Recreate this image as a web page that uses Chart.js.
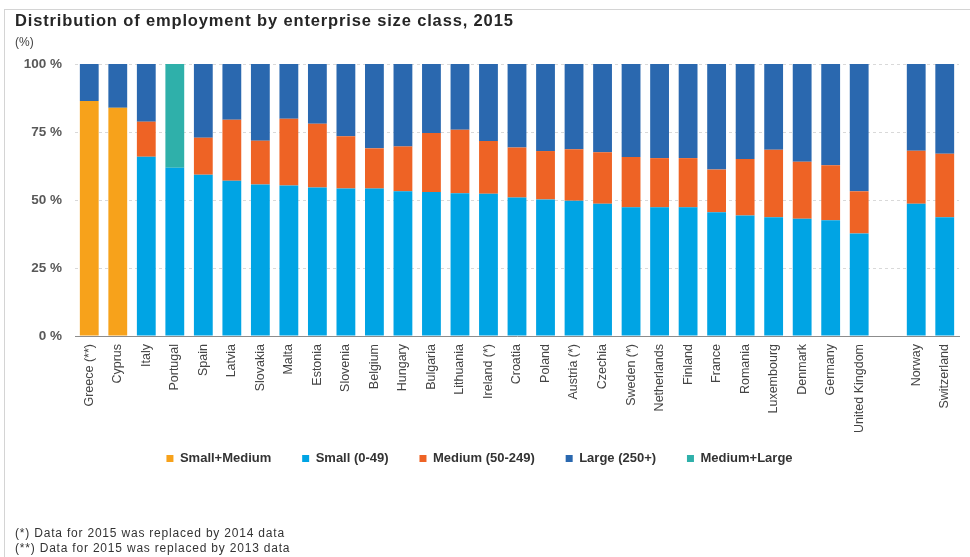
<!DOCTYPE html>
<html lang="en">
<head>
    <meta charset="UTF-8">
    <title>Distribution of employment by enterprise size class, 2015</title>
    <script src="https://cdn.jsdelivr.net/npm/chart.js@4.4.1/dist/chart.umd.min.js"></script>
</head>
<style>
    body {
        margin: 0;
        width: 970px;
        height: 557px;
        position: relative;
        background: #fff;
        font-family: "Liberation Sans", Arial, sans-serif;
        overflow: hidden;
    }
    .marco {
        position: absolute;
        left: 4px;
        top: 9px;
        width: 1000px;
        height: 600px;
        border-top: 1px solid #d4d4d4;
        border-left: 1px solid #d4d4d4;
    }
    .titulo {
        position: absolute;
        left: 15px;
        top: 11px;
        font-size: 16.5px;
        letter-spacing: 0.85px;
        font-weight: bold;
        color: #262626;
    }
    .unidad {
        position: absolute;
        left: 15px;
        top: 35px;
        font-size: 12px;
        color: #444;
    }
    .notas {
        position: absolute;
        left: 15px;
        top: 526px;
        font-size: 12px;
        letter-spacing: 0.8px;
        line-height: 15px;
        color: #333;
    }
    .lienzo {
        position: absolute;
        left: 0;
        top: 0;
        width: 970px;
        height: 557px;
    }
</style>
<body>
    <div class="marco"></div>
    <div class="lienzo"><canvas id="grafica"></canvas></div>
    <div class="titulo">Distribution of employment by enterprise size class, 2015</div>
    <div class="unidad">(%)</div>
    <div class="notas">
        (*) Data for 2015 was replaced by 2014 data<br>
        (**) Data for 2015 was replaced by 2013 data
    </div>

    <script>
        // Paises (el hueco vacio separa UE de Noruega/Suiza)
        const paises = ["Greece (**)", "Cyprus", "Italy", "Portugal", "Spain", "Latvia", "Slovakia", "Malta", "Estonia", "Slovenia",
            "Belgium", "Hungary", "Bulgaria", "Lithuania", "Ireland (*)", "Croatia", "Poland", "Austria (*)", "Czechia", "Sweden (*)",
            "Netherlands", "Finland", "France", "Romania", "Luxembourg", "Denmark", "Germany", "United Kingdom", "", "Norway", "Switzerland"];

        const pequenaMediana = [86.4, 83.9, null, null, null, null, null, null, null, null,
            null, null, null, null, null, null, null, null, null, null,
            null, null, null, null, null, null, null, null, null, null, null];

        const pequena = [null, null, 65.9, 61.9, 59.3, 57.1, 55.7, 55.3, 54.6, 54.2,
            54.2, 53.2, 52.9, 52.5, 52.3, 50.9, 50.2, 49.7, 48.6, 47.3,
            47.3, 47.3, 45.5, 44.3, 43.7, 43.1, 42.6, 37.7, null, 48.6, 43.7];

        const mediana = [null, null, 12.9, null, 13.6, 22.4, 16.1, 24.6, 23.4, 19.2,
            14.8, 16.5, 21.7, 23.3, 19.4, 18.4, 17.8, 19.0, 19.0, 18.5,
            18.1, 18.1, 15.7, 20.8, 24.8, 21.0, 20.2, 15.5, null, 19.5, 23.3];

        const grande = [13.6, 16.1, 21.2, null, 27.1, 20.5, 28.2, 20.1, 22.0, 26.6,
            31.0, 30.3, 25.4, 24.2, 28.3, 30.7, 32.0, 31.3, 32.4, 34.2,
            34.6, 34.6, 38.8, 34.9, 31.5, 35.9, 37.2, 46.8, null, 31.9, 33.0];

        const medianaGrande = [null, null, null, 38.1, null, null, null, null, null, null,
            null, null, null, null, null, null, null, null, null, null,
            null, null, null, null, null, null, null, null, null, null, null];

        const ticksY = [0, 25, 50, 75, 100];

        const fuente = "'Liberation Sans', Arial, sans-serif";

        function serie(nombre, datos, color) {
            return {
                label: nombre,
                data: datos,
                backgroundColor: color,
                borderWidth: 0,
                stack: "total",
                categoryPercentage: 1.0,
                barPercentage: 0.66
            };
        }

        const ctx = document.querySelector("#grafica").getContext("2d");
        new Chart(ctx, {
            type: "bar",
            data: {
                labels: paises,
                datasets: [
                    serie("Small+Medium", pequenaMediana, "#F7A21B"),
                    serie("Small (0-49)", pequena, "#00A4E4"),
                    serie("Medium (50-249)", mediana, "#EE6325"),
                    serie("Large (250+)", grande, "#2A68AF"),
                    serie("Medium+Large", medianaGrande, "#2FB0AA")
                ]
            },
            options: {
                responsive: true,
                maintainAspectRatio: false,
                animation: false,
                layout: {
                    padding: { top: 64, right: 11, bottom: 82, left: 0 }
                },
                plugins: {
                    tooltip: { enabled: false },
                    legend: {
                        position: "bottom",
                        labels: {
                            boxWidth: 7,
                            boxHeight: 7,
                            padding: 20,
                            color: "#333",
                            font: { family: fuente, size: 13, weight: "bold" },
                            // espacios extra para separar los elementos sin agrandar la altura
                            generateLabels: (chart) => {
                                const items = Chart.defaults.plugins.legend.labels.generateLabels(chart);
                                items.forEach((item, i) => {
                                    if (i < items.length - 1) item.text += "   ";
                                });
                                return items;
                            }
                        }
                    }
                },
                scales: {
                    x: {
                        stacked: true,
                        grid: { display: false },
                        border: { display: true, color: "#8c8c8c", width: 1 },
                        ticks: {
                            maxRotation: 90,
                            minRotation: 90,
                            autoSkip: false,
                            padding: 0,
                            color: "#444",
                            font: { family: fuente, size: 12.5 }
                        },
                        afterFit: (escala) => { escala.height = 96; }
                    },
                    y: {
                        stacked: true,
                        min: 0,
                        max: 100,
                        afterBuildTicks: (escala) => {
                            escala.ticks = ticksY.map((v) => ({ value: v }));
                        },
                        afterFit: (escala) => { escala.width = 75; },
                        grid: {
                            color: "#d9d9d9",
                            drawTicks: false
                        },
                        border: { display: false, dash: [3, 3] },
                        ticks: {
                            padding: 13,
                            color: "#595959",
                            font: { family: fuente, size: 13.5, weight: "bold" },
                            callback: (v) => v + " %"
                        }
                    }
                }
            }
        });
    </script>
</body>
</html>
